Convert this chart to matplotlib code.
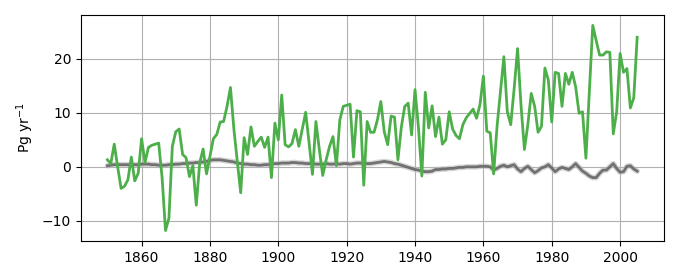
import numpy as np
import matplotlib
matplotlib.use("Agg")
import matplotlib.pyplot as plt

years = np.arange(1850, 2006)

green = [
    1.3, 0.6, 4.2, 0.0, -4.0, -3.6, -2.4, 1.8, -2.6, -1.2,
    5.2, 0.8, 3.6, 4.0, 4.2, 4.4, -2.0, -11.8, -9.5, 3.8,
    6.5, 7.0, 2.3, 1.7, -1.8, 0.2, -7.1, 0.7, 3.3, -1.3,
    2.0, 5.2, 6.0, 8.3, 8.4, 11.2, 14.7, 7.0, 1.0, -4.8,
    5.4, 2.3, 7.4, 3.8, 4.7, 5.5, 3.6, 5.5, -2.0, 8.1,
    5.0, 13.3, 4.1, 3.7, 4.3, 6.9, 3.8, 7.0, 10.1, 4.5,
    -1.4, 8.4, 3.2, -1.6, 1.3, 3.8, 5.6, 0.2, 8.7, 11.2,
    11.4, 11.6, 1.8, 10.4, 10.2, -3.4, 8.4, 6.4, 6.4, 8.7,
    12.1, 6.5, 4.1, 9.4, 9.2, 1.3, 7.4, 11.2, 11.8, 5.9,
    14.3, 7.3, -1.7, 13.8, 7.2, 11.3, 5.6, 9.2, 4.2, 5.0,
    10.2, 7.0, 5.8, 5.2, 7.8, 9.1, 9.9, 10.7, 9.0, 11.5,
    16.8, 6.6, 6.3, -1.3, 7.5, 14.0, 20.4, 10.2, 7.8, 14.5,
    21.9, 11.5, 3.2, 7.8, 13.6, 11.2, 6.4, 7.5, 18.3, 16.1,
    8.3, 17.5, 17.3, 11.2, 17.3, 15.3, 17.5, 14.8, 9.9, 10.2,
    1.6, 14.0, 26.2, 23.4, 20.7, 20.7, 21.3, 21.2, 6.1, 10.2,
    21.0, 17.5, 18.2, 10.9, 12.8, 24.0,
]

grey = [
    0.2, 0.3, 0.4, 0.4, 0.4, 0.4, 0.4, 0.4, 0.4, 0.4,
    0.5, 0.5, 0.5, 0.4, 0.4, 0.3, 0.3, 0.3, 0.4, 0.4,
    0.5, 0.5, 0.6, 0.6, 0.7, 0.7, 0.8, 0.8, 0.9, 1.0,
    1.2, 1.3, 1.3, 1.3, 1.2, 1.1, 1.0, 0.9, 0.7, 0.6,
    0.5, 0.5, 0.4, 0.4, 0.3, 0.3, 0.4, 0.4, 0.5, 0.6,
    0.6, 0.7, 0.7, 0.7, 0.8, 0.8, 0.7, 0.7, 0.6, 0.6,
    0.6, 0.5, 0.5, 0.5, 0.6, 0.5, 0.5, 0.6, 0.5, 0.6,
    0.6, 0.5, 0.6, 0.7, 0.7, 0.6, 0.6, 0.6, 0.7, 0.8,
    0.9, 1.0, 0.9, 0.8, 0.6, 0.5, 0.3, 0.1, -0.1, -0.3,
    -0.5, -0.6, -0.8, -0.9, -0.9, -0.8, -0.5, -0.5, -0.4, -0.4,
    -0.3, -0.3, -0.2, -0.1, -0.1, 0.0, 0.0, 0.0, 0.0, 0.1,
    0.1, 0.1, 0.0, -0.6, -0.3, 0.1, 0.3, 0.0, 0.2, 0.4,
    -0.4, -0.9, -0.3, 0.1, -0.5, -1.1, -0.7, -0.2, 0.0, 0.4,
    -0.2, -0.9, -0.4, -0.1, -0.3, -0.5, 0.0, 0.6, -0.1, -0.8,
    -1.2, -1.7, -2.0, -2.0, -1.2, -0.6, -0.6, 0.0, 0.6, -0.3,
    -1.0, -0.9, 0.1, 0.2, -0.4, -0.8,
]

xticks = [1860, 1880, 1900, 1920, 1940, 1960, 1980, 2000]
yticks = [-10, 0, 10, 20]

fig, ax = plt.subplots(figsize=(6.8, 2.8), dpi=100)
fig.subplots_adjust(left=0.119, right=0.976, top=0.946, bottom=0.140)

ax.plot(years, grey, color="#bbbbbb", lw=4.0, alpha=0.6, solid_capstyle="round")
ax.plot(years, grey, color="#666666", lw=2.0, alpha=0.9)
ax.plot(years, green, color="#4daf4a", lw=2.0)

ax.set_xticks(xticks)
ax.set_yticks(yticks)
ax.grid(True, color="#b0b0b0", lw=0.8)
ax.set_axisbelow(True)
ax.set_ylabel("Pg yr$^{-1}$")

fig.savefig("out.png", dpi=100)
